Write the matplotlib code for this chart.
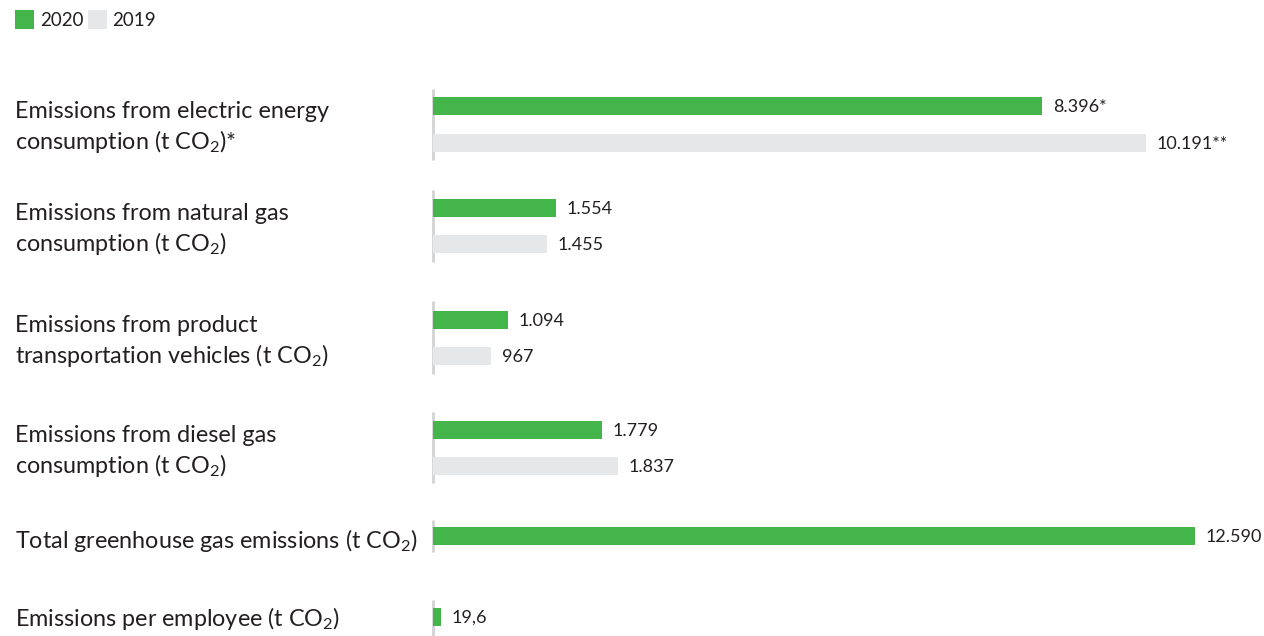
import matplotlib
matplotlib.use("Agg")
import matplotlib.pyplot as plt

plt.rcParams['font.family'] = ['Lato', 'DejaVu Sans']
plt.rcParams['mathtext.fontset'] = 'custom'
plt.rcParams['mathtext.rm'] = 'Lato'
plt.rcParams['mathtext.it'] = 'Lato'

# ---------------- data ----------------
categories = [
    "Emissions from electric energy\nconsumption (t CO$_\\mathregular{2}$)*",
    "Emissions from natural gas\nconsumption (t CO$_\\mathregular{2}$)",
    "Emissions from product\ntransportation vehicles (t CO$_\\mathregular{2}$)",
    "Emissions from diesel gas\nconsumption (t CO$_\\mathregular{2}$)",
    "Total greenhouse gas emissions (t CO$_\\mathregular{2}$)",
    "Emissions per employee (t CO$_\\mathregular{2}$)",
]
labels_2020 = ["8.396*", "1.554", "1.094", "1.779", "12.590", "19,6"]
labels_2019 = ["10.191**", "1.455", "967", "1.837", None, None]
# bar lengths as drawn in the reference (infographic scale, not proportional to values)
drawn_2020 = [609, 123, 75, 169, 762, 8]
drawn_2019 = [713, 114, 58, 185, None, None]

# ---------------- style ----------------
GREEN = "#43B54A"
GRAY = "#E6E7E8"
LINE = "#D1D3D4"
TXT = "#231F20"

fig = plt.figure(figsize=(12.64, 6.36), dpi=100)
ax = fig.add_axes([0, 0, 1, 1])
ax.set_xlim(-433, 831)
ax.set_ylim(636, 0)
ax.axis("off")

# layout: vertical pixel centers of each bar
y2020 = [106, 208, 320, 430, 536, 617]
y2019 = [143, 244, 356, 466, None, None]
ylab = [128, 230, 342, 452, 541, 618]
line_span = [(89, 160), (190, 262), (301, 374), (412, 483), (520, 552), (600, 636)]
H = 18

for i in range(len(categories)):
    top, bot = line_span[i]
    ax.plot([-0.5, -0.5], [top, bot], color=LINE, lw=2, solid_capstyle="butt", zorder=1)
    ax.barh(y2020[i], drawn_2020[i], height=H, left=0, color=GREEN, zorder=2)
    ax.text(drawn_2020[i] + 11, y2020[i] + 1, labels_2020[i], fontsize=13, color=TXT,
            va="center", ha="left")
    if drawn_2019[i] is not None:
        ax.barh(y2019[i], drawn_2019[i], height=H, left=0, color=GRAY, zorder=2)
        ax.text(drawn_2019[i] + 11, y2019[i] + 1, labels_2019[i], fontsize=13, color=TXT,
                va="center", ha="left")
    ax.text(-418, ylab[i], categories[i], fontsize=16.8, color=TXT, va="center", ha="left",
            linespacing=1.33)

# legend
ax.add_patch(plt.Rectangle((-418, 10), 19, 19, color=GREEN, lw=0))
ax.text(-393, 20, "2020", fontsize=13.5, color=TXT, va="center", ha="left")
ax.add_patch(plt.Rectangle((-345, 10), 19, 19, color=GRAY, lw=0))
ax.text(-321, 20, "2019", fontsize=13.5, color=TXT, va="center", ha="left")

fig.savefig("out.png", dpi=100)
